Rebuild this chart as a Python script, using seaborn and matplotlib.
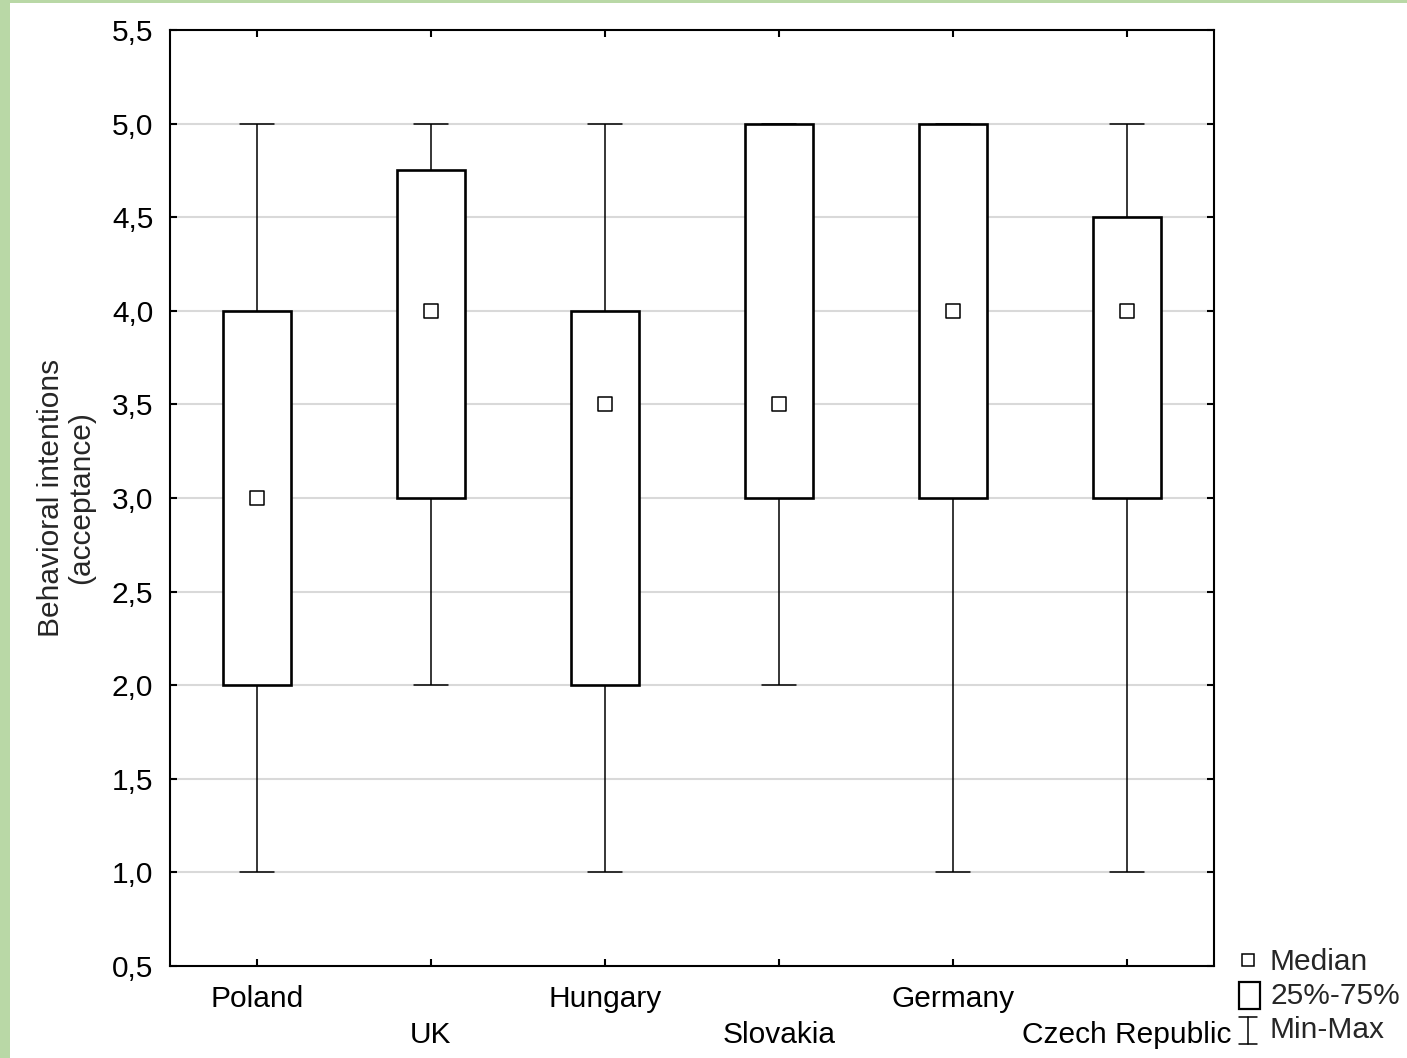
import matplotlib
matplotlib.use("Agg")
import matplotlib.pyplot as plt
import seaborn as sns
import pandas as pd
from matplotlib.patches import Rectangle
from matplotlib.lines import Line2D
from matplotlib.ticker import FuncFormatter, FixedLocator

countries = ["Poland", "UK", "Hungary", "Slovakia", "Germany", "Czech Republic"]
mins = [1.0, 2.0, 1.0, 2.0, 1.0, 1.0]
q1s = [2.0, 3.0, 2.0, 3.0, 3.0, 3.0]
medians = [3.0, 4.0, 3.5, 3.5, 4.0, 4.0]
q3s = [4.0, 4.75, 4.0, 5.0, 5.0, 4.5]
maxs = [5.0, 5.0, 5.0, 5.0, 5.0, 5.0]
yticks = [0.5, 1.0, 1.5, 2.0, 2.5, 3.0, 3.5, 4.0, 4.5, 5.0, 5.5]
ylabel = "Behavioral intentions\n(acceptance)"
legend_labels = ["Median", "25%-75%", "Min-Max"]

# five-point samples reproducing the summary statistics exactly
rows = []
for c, a, b, m, d, e in zip(countries, mins, q1s, medians, q3s, maxs):
    for v in (a, b, m, d, e):
        rows.append({"country": c, "value": v})
df = pd.DataFrame(rows)
med_df = pd.DataFrame({"country": countries, "median": medians})

sns.set_theme(style="white")
plt.rcParams["font.family"] = ["Liberation Sans", "DejaVu Sans"]

FS = 21.5
W, H = 1407, 1058
fig = plt.figure(figsize=(W / 100, H / 100), dpi=100)
ax = fig.add_axes([170 / W, 1 - 966 / H, (1214 - 170) / W, (966 - 30) / H])

green = "#b9d8a6"
fig.patches.append(Rectangle((0, 0), 10 / W, 1, transform=fig.transFigure,
                             facecolor=green, edgecolor="none", zorder=0))
fig.patches.append(Rectangle((0, 1 - 3 / H), 1, 3 / H, transform=fig.transFigure,
                             facecolor=green, edgecolor="none", zorder=0))

ax.set_axisbelow(True)
for y in yticks[1:-1]:
    ax.axhline(y, color="#d9d9d9", lw=1.5, zorder=0)

sns.boxplot(data=df, x="country", y="value", order=countries, ax=ax,
            whis=(0, 100), width=0.39, color="white", linecolor="black",
            showfliers=False, saturation=1,
            boxprops=dict(linewidth=1.9, facecolor="white", zorder=2),
            whiskerprops=dict(linewidth=1.1),
            capprops=dict(linewidth=1.1),
            medianprops=dict(linewidth=0, alpha=0),
            capwidths=0.195)

sns.scatterplot(data=med_df, x="country", y="median", ax=ax, marker="s", s=95,
                color="white", edgecolor="black", linewidth=1.1, zorder=4,
                legend=False)

ax.set_xlim(-0.5, 5.5)
ax.set_ylim(0.5, 5.5)
ax.yaxis.set_major_locator(FixedLocator(yticks))
ax.yaxis.set_major_formatter(FuncFormatter(lambda v, p: f"{v:.1f}".replace(".", ",")))
ax.set_xticks(range(len(countries)))
ax.set_xticklabels([c if i % 2 == 0 else "\n" + c for i, c in enumerate(countries)],
                   linespacing=1.35)
ax.set_xlabel("")
ax.set_ylabel(ylabel, fontsize=FS, labelpad=12, linespacing=1.1)

ax.tick_params(axis="both", direction="in", length=5, width=1.5, labelsize=FS,
               colors="black", pad=12, top=True, right=True, bottom=True, left=True)
ax.tick_params(axis="x", pad=14)
for s in ax.spines.values():
    s.set_color("black")
    s.set_linewidth(1.5)

# legend drawn in figure pixel coordinates
def fx(px):
    return px / W

def fy(py):
    return 1 - py / H

fig.add_artist(Line2D([fx(1248)], [fy(960)], marker="s", markersize=8.5,
                      markerfacecolor="white", markeredgecolor="black",
                      markeredgewidth=1.1, transform=fig.transFigure))
fig.add_artist(Rectangle((fx(1239), fy(1009)), 21 / W, 27 / H, transform=fig.transFigure,
                         facecolor="white", edgecolor="black", linewidth=1.6))
fig.add_artist(Line2D([fx(1248), fx(1248)], [fy(1017), fy(1044)], color="black",
                      lw=1.1, transform=fig.transFigure))
fig.add_artist(Line2D([fx(1239), fx(1257)], [fy(1017), fy(1017)], color="black",
                      lw=1.1, transform=fig.transFigure))
fig.add_artist(Line2D([fx(1239), fx(1257)], [fy(1044), fy(1044)], color="black",
                      lw=1.1, transform=fig.transFigure))
for lab, py in zip(legend_labels, [962, 996, 1030]):
    fig.text(fx(1270), fy(py), lab, fontsize=FS, ha="left", va="center")

fig.savefig("out.png", dpi=100, facecolor="white")
